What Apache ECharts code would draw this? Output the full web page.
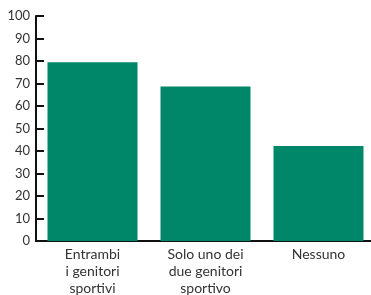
<!DOCTYPE html>
<html>
<head>
<meta charset="utf-8">
<script src="https://cdn.jsdelivr.net/npm/echarts@6/dist/echarts.min.js"></script>
<style>
html, body { margin: 0; padding: 0; background: #fff; }
#app { width: 371px; height: 295px; }
</style>
</head>
<body>
<div id="app"></div>
<script>
const categories = ['Entrambi\ni genitori\nsportivi', 'Solo uno dei\ndue genitori\nsportivo', 'Nessuno'];
const values = [79.5, 68.7, 42.2];

const myChart = echarts.init(document.getElementById('app'));

myChart.setOption({
    animation: false,
    grid: { left: 36, top: 16, right: -4, bottom: 54, outerBoundsMode: 'none', containLabel: false },
    xAxis: {
        type: 'category',
        data: categories,
        axisLine: { lineStyle: { color: '#111', width: 2 } },
        axisTick: { inside: true, length: 5, lineStyle: { color: '#111', width: 2 } },
        axisLabel: {
            color: '#333',
            fontFamily: 'Lato',
            fontSize: 14,
            lineHeight: 17,
            margin: 5
        }
    },
    yAxis: {
        type: 'value',
        min: 0,
        max: 100,
        interval: 10,
        splitLine: { show: false },
        axisLine: { show: true, lineStyle: { color: '#111', width: 2 } },
        axisTick: { show: true, inside: true, length: 8, lineStyle: { color: '#111', width: 2 } },
        axisLabel: {
            color: '#333',
            fontFamily: 'Lato',
            fontSize: 13,
            margin: 6
        }
    },
    series: [{
        type: 'bar',
        data: values,
        barWidth: 90,
        itemStyle: { color: '#00876a' }
    }]
});
</script>
</body>
</html>
